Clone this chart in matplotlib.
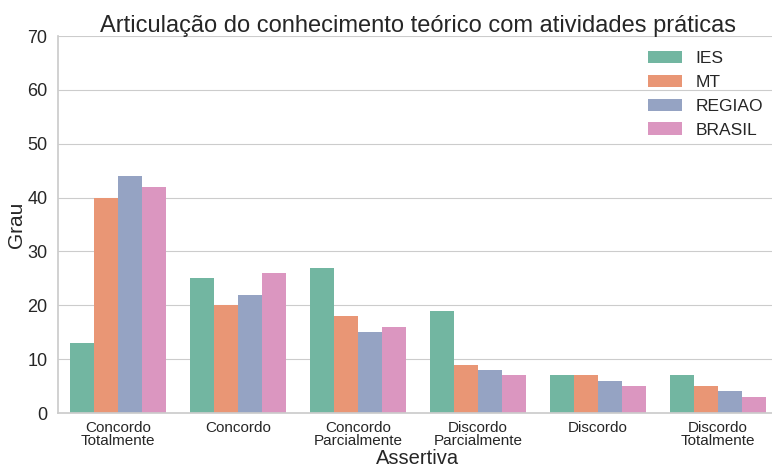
import matplotlib
matplotlib.use("Agg")
import matplotlib.pyplot as plt
import seaborn as sns
import numpy as np
import pandas as pd

categories = ["Concordo\nTotalmente", "Concordo", "Concordo\nParcialmente",
              "Discordo\nParcialmente", "Discordo", "Discordo\nTotalmente"]
ies = [13, 25, 27, 19, 7, 7]
mt = [40, 20, 18, 9, 7, 5]
regiao = [44, 22, 15, 8, 6, 4]
brasil = [42, 26, 16, 7, 5, 3]
series_names = ["IES", "MT", "REGIAO", "BRASIL"]

sns.set_style("whitegrid")
plt.rcParams['font.family'] = ['Arial', 'Liberation Sans', 'DejaVu Sans']

rows = []
for name, vals in zip(series_names, [ies, mt, regiao, brasil]):
    for c, v in zip(categories, vals):
        rows.append({"Assertiva": c, "Grau": v, "Fonte": name})
df = pd.DataFrame(rows)

fig = plt.figure(figsize=(7.72, 4.68), dpi=100)
ax = fig.add_axes([58 / 772, 1 - 413 / 468, 720 / 772, 377 / 468])
sns.barplot(data=df, x="Assertiva", y="Grau", hue="Fonte", order=categories,
            hue_order=series_names, palette="Set2", ax=ax, saturation=0.75,
            linewidth=0, edgecolor='none')
ax.set_ylim(0, 70)
ax.set_yticks(range(0, 71, 10))
ax.tick_params(axis='y', labelsize=13, colors='#262626', pad=4)
ax.tick_params(axis='x', labelsize=11, colors='#262626', pad=2)
for lbl in ax.get_xticklabels():
    lbl.set_linespacing(0.95)
ax.set_xlabel("Assertiva", fontsize=14.5, color='#262626', labelpad=1)
ax.set_ylabel("Grau", fontsize=15, color='#262626', labelpad=1)
ax.set_title("Articulação do conhecimento teórico com atividades práticas", fontsize=17, color='#262626', pad=3)
for s in ['top', 'right']:
    ax.spines[s].set_visible(False)
for s in ['left', 'bottom']:
    ax.spines[s].set_color('#cccccc')
    ax.spines[s].set_linewidth(1.25)
ax.legend(loc='upper right', frameon=False, fontsize=12.5, title=None,
          borderaxespad=0, borderpad=0.4, labelspacing=0.5, handlelength=1.95,
          handletextpad=0.8, bbox_to_anchor=(770 / 772, 1 - 44 / 468),
          bbox_transform=fig.transFigure)
fig.savefig("out.png", dpi=100)
